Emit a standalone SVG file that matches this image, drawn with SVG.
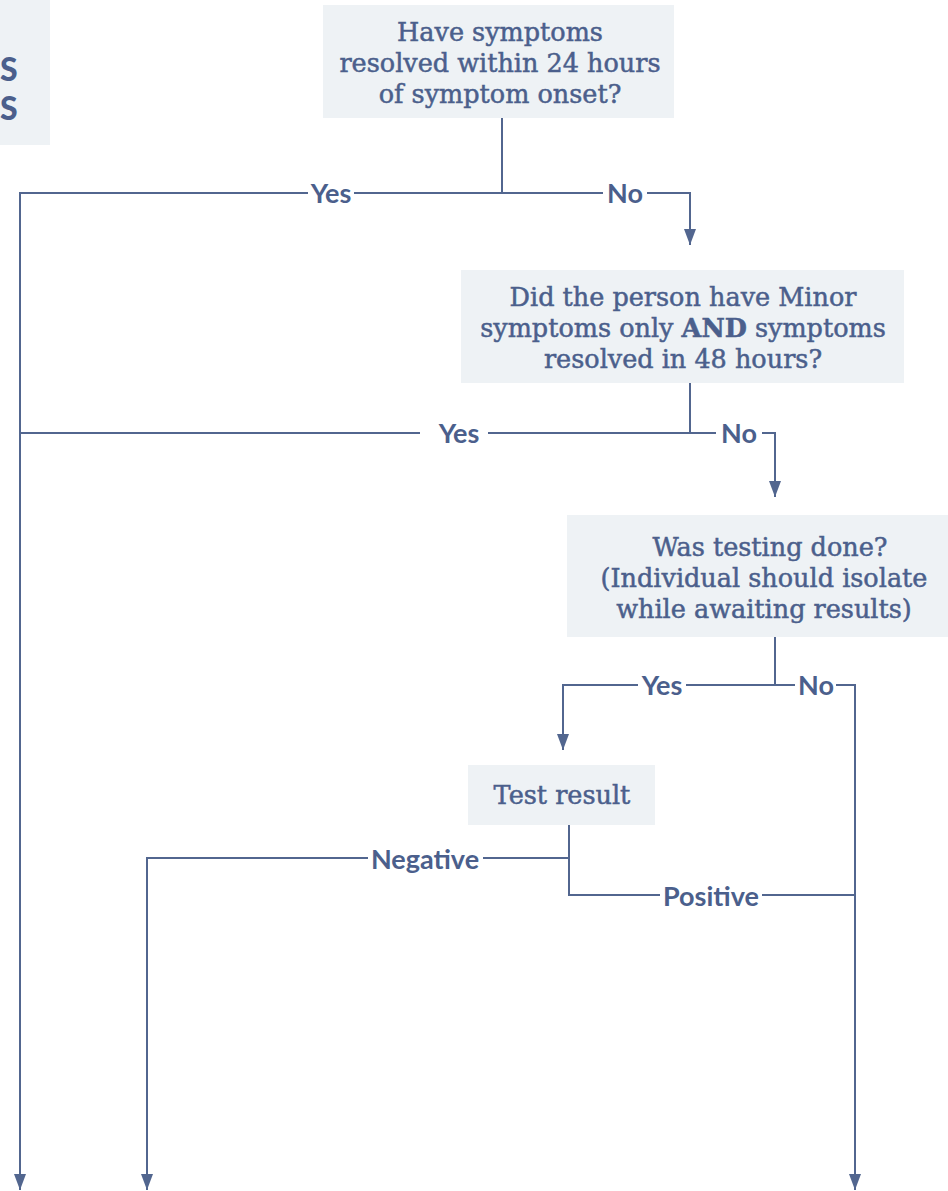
<svg xmlns="http://www.w3.org/2000/svg" width="948" height="1191" viewBox="0 0 948 1191">
<style>
.box{fill:#eef2f5}
.q{font-family:"DejaVu Serif",serif;font-size:25.5px;fill:#4b5f8c;stroke:#4b5f8c;stroke-width:0.5;text-anchor:middle}
.lbl{font-family:Lato,"Liberation Sans",sans-serif;font-weight:bold;font-size:27px;fill:#4b5f8c;text-anchor:middle}
.ttl{font-family:Lato,"Liberation Sans",sans-serif;font-weight:900;font-size:32px;fill:#4b5f8c}
.c{fill:none;stroke:#52668f;stroke-width:2}
</style>
<defs>
<marker id="ah" viewBox="0 0 16 12" refX="16" refY="6" markerWidth="16" markerHeight="12" markerUnits="userSpaceOnUse" orient="auto">
<path d="M0,0 L16,6 L0,12 Z" fill="#52668f"/>
</marker>
</defs>
<rect width="948" height="1191" fill="#ffffff"/>
<g id="title">
<rect class="box" x="0" y="0" width="50" height="145"/>
<text class="ttl" x="0" y="81">S</text>
<text class="ttl" x="0" y="120">S</text>
</g>
<g id="q1">
<rect class="box" x="323" y="5" width="351" height="113"/>
<text class="q" x="500" y="41">Have symptoms</text>
<text class="q" x="500" y="72">resolved within 24 hours</text>
<text class="q" x="500" y="103">of symptom onset?</text>
</g>
<g id="q2">
<rect class="box" x="461" y="270" width="443" height="113"/>
<text class="q" x="683" y="306">Did the person have Minor</text>
<text class="q" x="683" y="337">symptoms only <tspan font-weight="bold">AND</tspan> symptoms</text>
<text class="q" x="683" y="368">resolved in 48 hours?</text>
</g>
<g id="q3">
<rect class="box" x="567" y="515" width="381" height="122"/>
<text class="q" x="770" y="556">Was testing done?</text>
<text class="q" x="764" y="587">(Individual should isolate</text>
<text class="q" x="764" y="618">while awaiting results)</text>
</g>
<g id="q4">
<rect class="box" x="468" y="765" width="187" height="60"/>
<text class="q" x="562" y="804">Test result</text>
</g>
<g id="connectors">
<path class="c" d="M502,118 V193"/>
<path class="c" d="M308,193 H20 V1190" marker-end="url(#ah)"/>
<path class="c" d="M354,193 H603"/>
<path class="c" d="M647,193 H690 V245" marker-end="url(#ah)"/>
<path class="c" d="M690,383 V433"/>
<path class="c" d="M20,433 H420"/>
<path class="c" d="M488,433 H716"/>
<path class="c" d="M762,433 H775 V497" marker-end="url(#ah)"/>
<path class="c" d="M775,637 V685"/>
<path class="c" d="M638,685 H563 V750" marker-end="url(#ah)"/>
<path class="c" d="M686,685 H795"/>
<path class="c" d="M836,685 H855 V1190" marker-end="url(#ah)"/>
<path class="c" d="M569,825 V895 H660"/>
<path class="c" d="M569,858 H483"/>
<path class="c" d="M368,858 H147 V1190" marker-end="url(#ah)"/>
<path class="c" d="M762,895 H855"/>
</g>
<g id="labels">
<text class="lbl" x="331" y="203">Yes</text>
<text class="lbl" x="625" y="203">No</text>
<text class="lbl" x="459" y="443">Yes</text>
<text class="lbl" x="739" y="443">No</text>
<text class="lbl" x="662" y="695">Yes</text>
<text class="lbl" x="816" y="695">No</text>
<text class="lbl" x="425" y="869">Negative</text>
<text class="lbl" x="711" y="906">Positive</text>
</g>
</svg>
